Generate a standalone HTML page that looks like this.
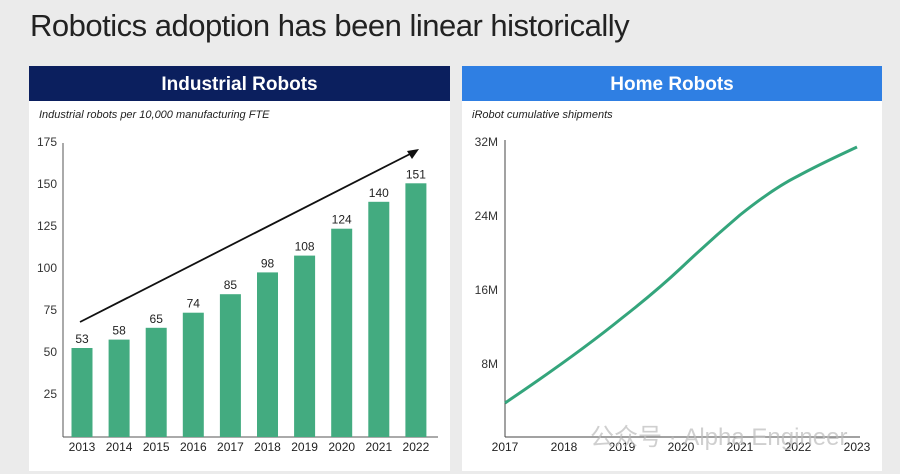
<!DOCTYPE html>
<html><head><meta charset="utf-8"><style>
body{margin:0;width:900px;height:474px;background:#ebebeb;font-family:"Liberation Sans",Arial,sans-serif;overflow:hidden;position:relative}
.t{position:absolute;left:30px;top:8px;font-size:31px;color:#222;letter-spacing:-0.5px}
</style></head><body>
<div class="t">Robotics adoption has been linear historically</div>
<svg width="900" height="474" style="position:absolute;left:0;top:0" font-family="Liberation Sans,Arial,sans-serif">
<rect x="29" y="66" width="421" height="405" fill="#fff"/>
<rect x="29" y="66" width="421" height="35" fill="#0b1f5e"/>
<text x="239.5" y="90" text-anchor="middle" fill="#fff" font-size="19" font-weight="bold">Industrial Robots</text>
<text x="39" y="118" font-size="11" font-style="italic" fill="#222">Industrial robots per 10,000 manufacturing FTE</text>
<rect x="462" y="66" width="420" height="405" fill="#fff"/>
<rect x="462" y="66" width="420" height="35" fill="#2f7fe3"/>
<text x="672" y="90" text-anchor="middle" fill="#fff" font-size="19" font-weight="bold">Home Robots</text>
<text x="472" y="118" font-size="11" font-style="italic" fill="#222">iRobot cumulative shipments</text>
<g font-size="12" fill="#333" text-anchor="end">
<text x="57" y="146">175</text><text x="57" y="188">150</text><text x="57" y="230">125</text><text x="57" y="272">100</text><text x="57" y="314">75</text><text x="57" y="356">50</text><text x="57" y="398">25</text>
</g>
<line x1="63" y1="143" x2="63" y2="437" stroke="#555"/>
<line x1="63" y1="437" x2="438" y2="437" stroke="#555"/>
<g fill="#43ab80">
<rect x="71.5" y="348" width="21" height="89"/>
<rect x="108.6" y="339.6" width="21" height="97.4"/>
<rect x="145.7" y="327.8" width="21" height="109.2"/>
<rect x="182.8" y="312.7" width="21" height="124.3"/>
<rect x="219.9" y="294.2" width="21" height="142.8"/>
<rect x="257" y="272.4" width="21" height="164.6"/>
<rect x="294.1" y="255.6" width="21" height="181.4"/>
<rect x="331.2" y="228.7" width="21" height="208.3"/>
<rect x="368.3" y="201.8" width="21" height="235.2"/>
<rect x="405.4" y="183.3" width="21" height="253.7"/>
</g>
<g font-size="12" fill="#222" text-anchor="middle">
<text x="82" y="343">53</text><text x="119.1" y="334.6">58</text><text x="156.2" y="322.8">65</text><text x="193.3" y="307.7">74</text><text x="230.4" y="289.2">85</text><text x="267.5" y="267.4">98</text><text x="304.6" y="250.6">108</text><text x="341.7" y="223.7">124</text><text x="378.8" y="196.8">140</text><text x="415.9" y="178.3">151</text>
<text x="82" y="451">2013</text><text x="119.1" y="451">2014</text><text x="156.2" y="451">2015</text><text x="193.3" y="451">2016</text><text x="230.4" y="451">2017</text><text x="267.5" y="451">2018</text><text x="304.6" y="451">2019</text><text x="341.7" y="451">2020</text><text x="378.8" y="451">2021</text><text x="415.9" y="451">2022</text>
</g>
<line x1="80" y1="322" x2="412" y2="153" stroke="#111" stroke-width="1.8"/>
<polygon points="419,149 407,151 412,159" fill="#111"/>
<g font-size="12" fill="#333" text-anchor="end">
<text x="498" y="146">32M</text><text x="498" y="220">24M</text><text x="498" y="294">16M</text><text x="498" y="368">8M</text>
</g>
<line x1="505" y1="140" x2="505" y2="437" stroke="#444"/>
<line x1="505" y1="437" x2="860" y2="437" stroke="#444"/>
<g font-size="12" fill="#222" text-anchor="middle">
<text x="505" y="451">2017</text><text x="564" y="451">2018</text><text x="622" y="451">2019</text><text x="681" y="451">2020</text><text x="740" y="451">2021</text><text x="798" y="451">2022</text><text x="857" y="451">2023</text>
</g>
<path d="M505,403 C545,376 585,348 622,318 C645,300 665,283 681,268 C700,250 720,232 740,215 C760,199 778,186 798,176 C820,164 840,155 857,147" fill="none" stroke="#34a57c" stroke-width="3"/>
<text x="590" y="445" font-size="24" fill="#bbb" opacity="0.7" font-family="Liberation Sans,Noto Sans CJK SC,sans-serif">公众号 · Alpha Engineer</text>
</svg>
</body></html>
